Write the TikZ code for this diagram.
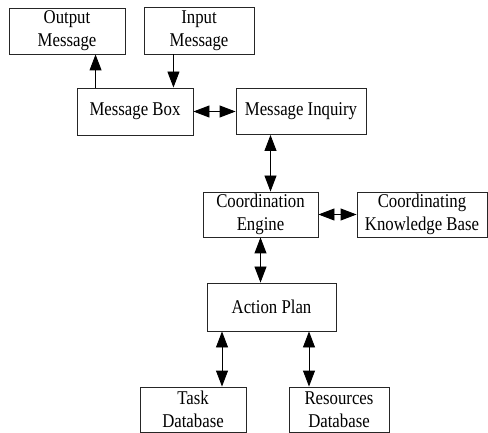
\documentclass[tikz,border=0pt]{standalone}
\usepackage{fontspec}
\setmainfont{Liberation Serif}[FakeStretch=0.86]
\usetikzlibrary{arrows.meta}
\tikzset{blk/.style={draw=black!85,line width=0.9pt,align=center,inner sep=0pt,font=\fontsize{19.5}{23}\selectfont},
dbl/.style={{Triangle[length=16pt,width=12pt]}-{Triangle[length=16pt,width=12pt]},line width=0.9pt},
one/.style={-{Triangle[length=16pt,width=12pt]},line width=0.9pt}}

\begin{document}
\begin{tikzpicture}[x=1pt,y=-1pt]
\useasboundingbox(0,0)rectangle(488,433);
\node[blk,minimum width=116pt,minimum height=46pt](outmsg)at(67,31){Output\\Message};
\node[blk,minimum width=110pt,minimum height=47pt](inmsg)at(199,30.5){Input\\Message};
\node[blk,minimum width=116pt,minimum height=47pt](msgbox)at(135,111.5){Message Box};
\node[blk,minimum width=130pt,minimum height=46pt](inquiry)at(301,111.5){Message Inquiry};
\node[blk,minimum width=115pt,minimum height=45pt](engine)at(260.5,214.5){Coordination\\Engine};
\node[blk,minimum width=130pt,minimum height=45pt](kbase)at(422,214.5){Coordinating\\Knowledge Base};
\node[blk,minimum width=129pt,minimum height=48pt](plan)at(271.5,307){Action Plan};
\node[blk,minimum width=106pt,minimum height=45pt](taskdb)at(193,409.5){Task\\Database};
\node[blk,minimum width=100pt,minimum height=45pt](resdb)at(339,409.5){Resources\\Database};
\draw[one]([xshift=19pt]msgbox.north west)--([xshift=19pt]msgbox.north west|-outmsg.south);
\draw[one]([xshift=-20pt]msgbox.north east|-inmsg.south)--([xshift=-20pt]msgbox.north east);
\draw[dbl](msgbox.east)--(inquiry.west);
\draw[dbl]([xshift=10pt]engine.north|-inquiry.south)--([xshift=10pt]engine.north);
\draw[dbl](engine.east)--(kbase.west);
\draw[dbl](engine.south)--(engine.south|-plan.north);
\draw[dbl]([xshift=29pt]taskdb.north|-plan.south)--([xshift=29pt]taskdb.north);
\draw[dbl]([xshift=-30pt]resdb.north|-plan.south)--([xshift=-30pt]resdb.north);
\end{tikzpicture}
\end{document}
